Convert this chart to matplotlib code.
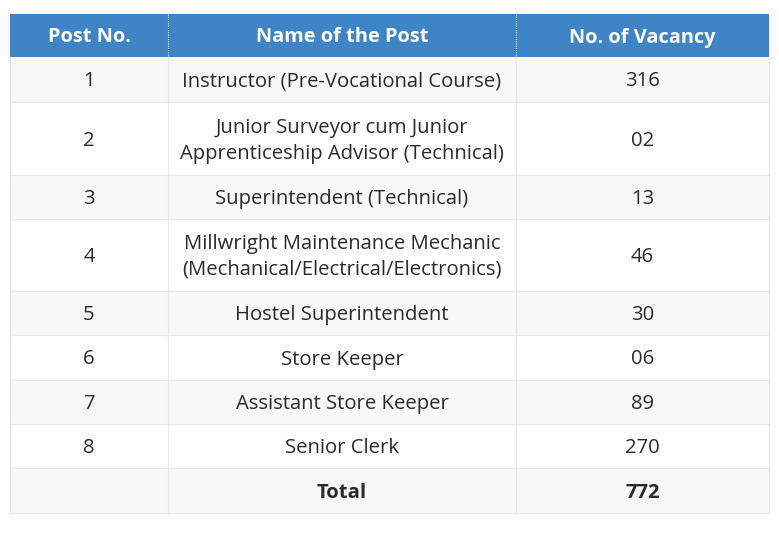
import matplotlib.pyplot as plt
from matplotlib.patches import Rectangle

plt.rcParams['font.family'] = ['Open Sans', 'DejaVu Sans']

headers = ['Post No.', 'Name of the Post', 'No. of Vacancy']
post_no = ['1', '2', '3', '4', '5', '6', '7', '8', '']
post_names = ['Instructor (Pre-Vocational Course)',
              'Junior Surveyor cum Junior\nApprenticeship Advisor (Technical)',
              'Superintendent (Technical)',
              'Millwright Maintenance Mechanic\n(Mechanical/Electrical/Electronics)',
              'Hostel Superintendent',
              'Store Keeper',
              'Assistant Store Keeper',
              'Senior Clerk',
              'Total']
vacancies = ['316', '02', '13', '46', '30', '06', '89', '270', '772']

# layout in pixels
W, H = 779, 533
col_x = [10, 168, 516, 769]
header_top, header_bot = 14, 57
row_h = [45, 73, 44, 72, 44, 45, 44, 44, 45]

fig = plt.figure(figsize=(W / 100, H / 100), dpi=100)
ax = fig.add_axes([0, 0, 1, 1])
ax.set_xlim(0, W)
ax.set_ylim(H, 0)
ax.axis('off')

# header
ax.add_patch(Rectangle((col_x[0], header_top), col_x[-1] - col_x[0],
                       header_bot - header_top, facecolor='#3d85c6', edgecolor='none'))
for i, h in enumerate(headers):
    cx = (col_x[i] + col_x[i + 1]) / 2
    ax.text(cx, (header_top + header_bot) / 2 + 2, h, color='white', fontsize=14.4,
            fontweight='bold', ha='center', va='center')
    if i > 0:
        ax.plot([col_x[i], col_x[i]], [header_top, header_bot], color='#dbe8f5',
                lw=0.8, ls=(0, (1, 1)))

# body
y = header_bot
line_c = '#e9e9e9'
for r in range(len(post_no)):
    h = row_h[r]
    fc = '#f8f8f8' if r % 2 == 0 else 'white'
    ax.add_patch(Rectangle((col_x[0], y), col_x[-1] - col_x[0], h,
                           facecolor=fc, edgecolor='none'))
    bold = post_names[r] == 'Total'
    cells = [post_no[r], post_names[r], vacancies[r]]
    for c, txt in enumerate(cells):
        cx = (col_x[c] + col_x[c + 1]) / 2
        ax.text(cx, y + h / 2 + 2, txt, color='#2a2a2a', fontsize=14.6,
                fontweight='bold' if bold else 'normal', ha='center', va='center',
                linespacing=1.4)
    ax.plot([col_x[0], col_x[-1]], [y + h, y + h], color=line_c, lw=0.9)
    y += h

# vertical lines of body
for x in col_x:
    ax.plot([x, x], [header_bot, y], color=line_c, lw=0.9)

fig.savefig('out.png', dpi=100, facecolor='white')
